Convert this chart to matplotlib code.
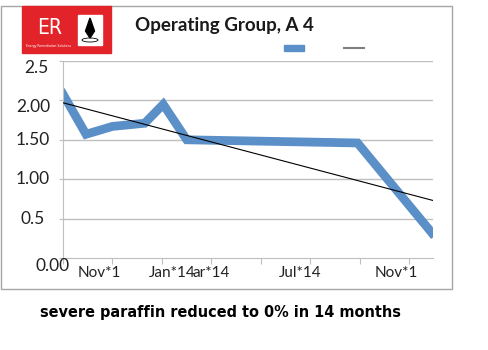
import matplotlib
matplotlib.use("Agg")
import matplotlib.pyplot as plt
import matplotlib.patches as patches
from matplotlib.lines import Line2D
from matplotlib.transforms import blended_transform_factory

# months counted from left edge of the axis
months = [0, 0.93, 2.0, 3.3, 4.05, 5.0, 11.9, 14.9]
paraffin = [2.08, 1.57, 1.67, 1.71, 1.95, 1.50, 1.46, 0.32]

trend_x = [0, 14.95]
trend_y = [1.97, 0.73]

y_ticks = [0.0, 0.5, 1.0, 1.5, 2.0, 2.5]
y_labels = ["0.00", "0.5", "1.00", "1.50", "2.00", "2.5"]

x_ticks = [0, 2, 4, 6, 8, 10, 12, 14]
x_label_pos = [1.45, 4.4, 6.0, 9.6, 13.45]
x_labels = ["Nov*1", "Jan*14", "ar*14", "Jul*14", "Nov*1"]

W, H = 488, 350
fig = plt.figure(figsize=(W / 100, H / 100), dpi=100)

def fx(px):
    return px / W

def fy(py):
    return 1 - py / H

# outer chart border
fig.patches.append(patches.Rectangle((fx(1), fy(289)), fx(451), (288 - 5) / H,
                                     transform=fig.transFigure, fill=False,
                                     edgecolor="#a6a6a6", lw=1))

ax = fig.add_axes([fx(63), fy(258), fx(433 - 63), (258 - 61) / H])
ax.set_xlim(0, 14.95)
ax.set_ylim(0, 2.5)

for v in y_ticks[1:]:
    ax.axhline(v, color="#bfbfbf", lw=1, zorder=0)
for s in ["top", "right"]:
    ax.spines[s].set_visible(False)
ax.spines["left"].set_color("#bfbfbf")
ax.spines["bottom"].set_color("#bfbfbf")

ax.plot(months, paraffin, color="#5b8fc8", lw=6.3, solid_joinstyle="miter", zorder=2)
ax.plot(trend_x, trend_y, color="black", lw=0.8, zorder=3)

ax.set_yticks(y_ticks)
ax.set_yticklabels([])
ax.tick_params(axis="y", length=3, color="#bfbfbf")
ax.set_xticks(x_ticks)
ax.set_xticklabels([])
ax.tick_params(axis="x", length=4, color="#bfbfbf", direction="out")

# y labels (hand nudged like the original)
tr = blended_transform_factory(fig.transFigure, ax.transData)
y_off = [-0.1, 0, 0, 0, -0.09, -0.09]
y_cx = [53, 33, 33, 33, 33, 36]
for v, lab, off, cx in zip(y_ticks, y_labels, y_off, y_cx):
    ax.text(fx(cx), v + off, lab, transform=tr, ha="center", va="center",
            fontsize=12.5, family="Lato", color="#222222")

trx = blended_transform_factory(ax.transData, fig.transFigure)
for p, lab in zip(x_label_pos, x_labels):
    ax.text(p, fy(273), lab, transform=trx, ha="center", va="center",
            fontsize=11, family="Lato", color="#222222")

# title
fig.text(fx(135), fy(25), "Operating Group, A 4", fontsize=13.5, fontweight="bold",
         family="Lato", color="#1a1a1a", va="center", ha="left")

# legend keys without text
fig.patches.append(patches.Rectangle((fx(284), fy(51)), fx(20), 6 / H,
                                     transform=fig.transFigure, color="#5b8fc8"))
fig.lines.append(Line2D([fx(344), fx(364)], [fy(48), fy(48)],
                        transform=fig.transFigure, color="#808080", lw=1.5))

# logo
fig.patches.append(patches.Rectangle((fx(22), fy(53)), fx(89), 47 / H,
                                     transform=fig.transFigure, color="#e3232a"))
fig.text(fx(50), fy(28), "ER", color="white", fontsize=15, family="DejaVu Sans",
         fontstretch="condensed", ha="center", va="center")
fig.text(fx(49), fy(46), "Energy Remediation Solutions", color="white", fontsize=2.2,
         ha="center", va="center")
fig.patches.append(patches.Rectangle((fx(78), fy(45)), fx(24), 30 / H,
                                     transform=fig.transFigure, color="white"))
fig.patches.append(patches.Polygon([(fx(90), fy(18)), (fx(85.5), fy(31)), (fx(90), fy(38)),
                                    (fx(94.5), fy(31))], closed=True,
                                   transform=fig.transFigure, color="black"))
fig.patches.append(patches.Ellipse((fx(90), fy(40)), fx(16), 4 / H,
                                   transform=fig.transFigure, fill=False,
                                   edgecolor="black", lw=0.6))

fig.text(fx(40), fy(312), "severe paraffin reduced to 0% in 14 months", fontsize=11.6,
         family="DejaVu Sans", fontstretch="condensed", fontweight="bold", color="black",
         ha="left", va="center")

fig.savefig("out.png", dpi=100)
